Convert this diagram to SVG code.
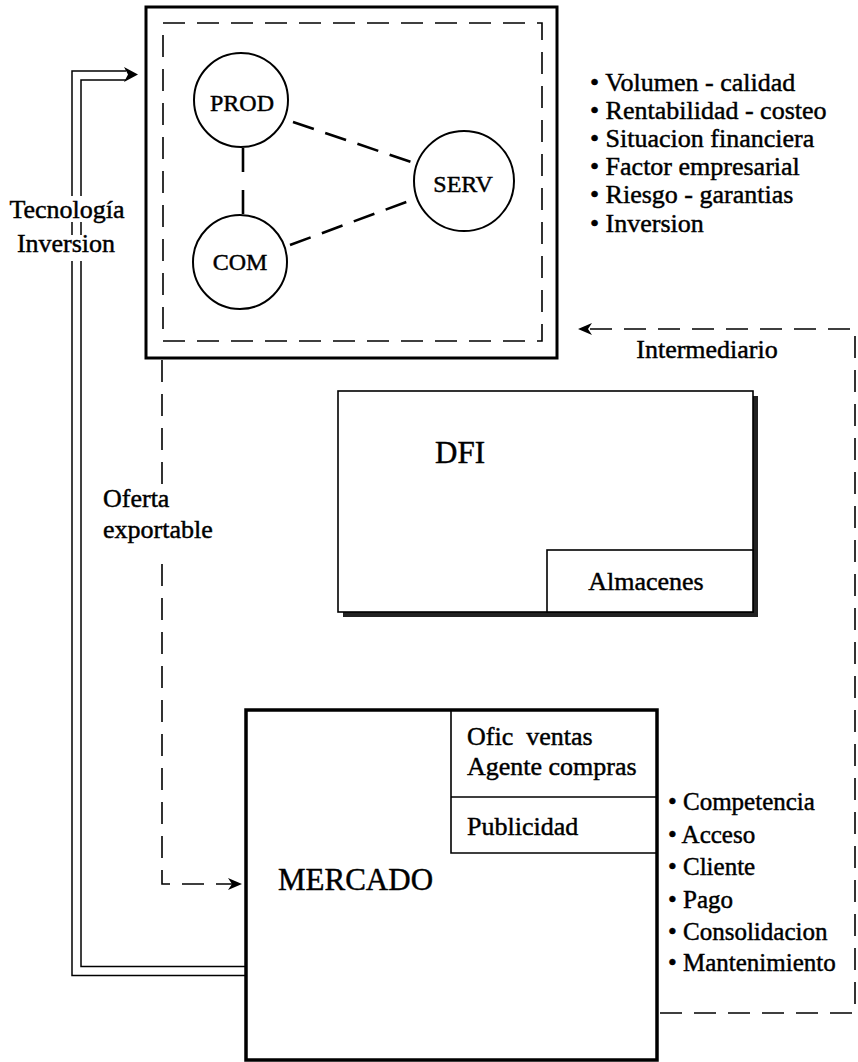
<svg xmlns="http://www.w3.org/2000/svg" width="858" height="1062" viewBox="0 0 858 1062">
<style>
text{font-family:"Liberation Serif","Times New Roman",serif;fill:#000;stroke:#000;stroke-width:0.45}
.t26{font-size:26px}
.t25{font-size:25px}
.t24{font-size:24px}
.big{font-size:31px}
.box{fill:#fff;stroke:#000;stroke-width:1.6}
.dash{fill:none;stroke:#000;stroke-width:1.6;stroke-dasharray:22 12}
.link{fill:none;stroke:#000;stroke-width:2.6;stroke-dasharray:22 12}
.circ{fill:#fff;stroke:#000;stroke-width:2}
.mid{text-anchor:middle}
</style>
<defs>
<marker id="ah" viewBox="0 0 14 12" refX="14" refY="6" markerWidth="14" markerHeight="12" markerUnits="userSpaceOnUse" orient="auto">
<path d="M0 0 L14 6 L0 12 L4 6 Z" fill="#000"/>
</marker>
</defs>
<rect width="858" height="1062" fill="#fff"/>

<g id="connectors">
<path d="M245 971 H76.5 V75.5 H126" fill="none" stroke="#000" stroke-width="10.5"/>
<path d="M245 971 H76.5 V75.5 H126" fill="none" stroke="#fff" stroke-width="7.5"/>
<path d="M124 67 L138 74.5 L124 82 L128 74.5 Z" fill="#000"/>
<path class="dash" d="M162 360 V884 H242" marker-end="url(#ah)"/>
<path class="dash" d="M660 1013 H855 V329 H578" marker-end="url(#ah)"/>
</g>

<g id="top-box">
<rect x="146" y="7" width="411" height="351" fill="#fff" stroke="#000" stroke-width="3"/>
<rect x="163" y="23" width="379" height="318" class="dash"/>
<line class="link" x1="243" y1="148" x2="243" y2="214" style="stroke-dasharray:24 18"/>
<line class="link" x1="293" y1="122" x2="414" y2="163"/>
<line class="link" x1="290" y1="245" x2="417" y2="198"/>
</g>

<g id="prod">
<circle class="circ" cx="241" cy="100" r="47"/>
<text class="t24 mid" x="242" y="111">PROD</text>
</g>
<g id="com">
<circle class="circ" cx="240" cy="262" r="47"/>
<text class="t24 mid" x="240" y="270">COM</text>
</g>
<g id="serv">
<circle class="circ" cx="464" cy="181" r="50"/>
<text class="t24 mid" x="463" y="192">SERV</text>
</g>

<g id="tecnologia-label">
<rect x="5" y="196" width="126" height="26" fill="#fff"/>
<rect x="5" y="235" width="126" height="26" fill="#fff"/>
<text class="t26 mid" x="67" y="218">Tecnología</text>
<text class="t26 mid" x="66" y="252">Inversion</text>
</g>

<g id="top-bullets" class="t26">
<text x="590" y="91">• Volumen - calidad</text>
<text x="590" y="119">• Rentabilidad - costeo</text>
<text x="590" y="147">• Situacion financiera</text>
<text x="590" y="175">• Factor empresarial</text>
<text x="590" y="203">• Riesgo - garantias</text>
<text x="590" y="232">• Inversion</text>
</g>

<g id="intermediario-label">
<text class="t26 mid" x="707" y="358">Intermediario</text>
</g>

<g id="oferta-label">
<rect x="100" y="484" width="118" height="72" fill="#fff"/>
<text class="t26" x="103" y="507">Oferta</text>
<text class="t26" x="103" y="538">exportable</text>
</g>

<g id="dfi">
<rect x="343" y="396" width="415" height="221" fill="#222"/>
<rect class="box" x="338" y="391" width="415" height="221"/>
<text class="big" x="435" y="463">DFI</text>
<rect class="box" x="547" y="550" width="206" height="62"/>
<text class="t26 mid" x="646" y="590">Almacenes</text>
</g>

<g id="mercado">
<rect x="246" y="710" width="411" height="350" fill="#fff" stroke="#000" stroke-width="3.5"/>
<text class="big" x="278" y="890">MERCADO</text>
<path d="M451 710 V853 H657 M451 797 H657" fill="none" stroke="#000" stroke-width="1.6"/>
<text class="t26" x="467" y="745" xml:space="preserve">Ofic  ventas</text>
<text class="t26" x="467" y="775">Agente compras</text>
<text class="t26" x="467" y="835">Publicidad</text>
</g>

<g id="bottom-bullets" class="t25">
<text x="668" y="810">• Competencia</text>
<text x="668" y="843">• Acceso</text>
<text x="668" y="875">• Cliente</text>
<text x="668" y="908">• Pago</text>
<text x="668" y="940">• Consolidacion</text>
<text x="668" y="971">• Mantenimiento</text>
</g>
</svg>
